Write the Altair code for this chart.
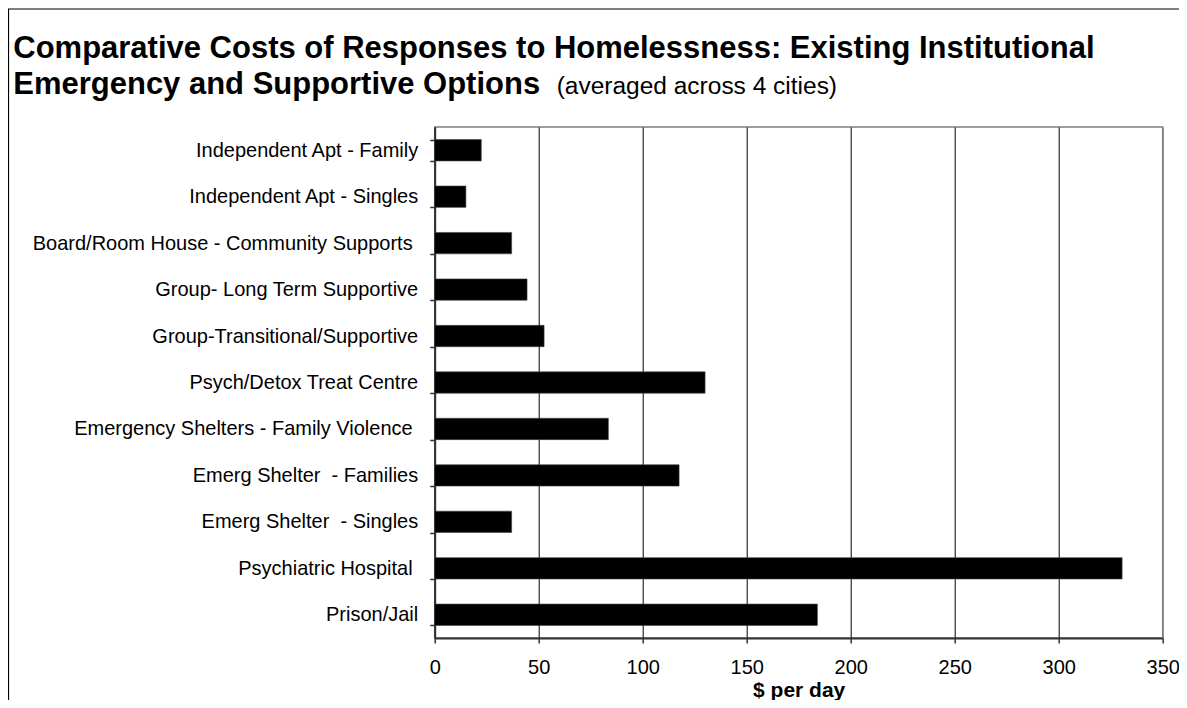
import altair as alt
import pandas as pd

FONT = "Liberation Sans"

categories = [
    "Independent Apt - Family",
    "Independent Apt - Singles",
    "Board/Room House - Community Supports\u00a0\u200b",
    "Group- Long Term Supportive",
    "Group-Transitional/Supportive",
    "Psych/Detox Treat Centre",
    "Emergency Shelters - Family Violence\u00a0\u200b",
    "Emerg Shelter\u00a0 - Families",
    "Emerg Shelter\u00a0 - Singles",
    "Psychiatric Hospital\u00a0\u200b",
    "Prison/Jail",
]
costs = [22.4, 15.0, 37.0, 44.4, 52.6, 130.0, 83.5, 117.5, 37.0, 330.5, 184.0]
x_ticks = [0, 50, 100, 150, 200, 250, 300, 350]

title_line1 = "Comparative Costs of Responses to Homelessness: Existing Institutional"
title_line2 = "Emergency and Supportive Options"
subtitle = "(averaged across 4 cities)"
x_title = "$ per day"

df = pd.DataFrame({"option": categories, "cost": costs})

bars = alt.Chart(df).mark_bar(color="black", stroke="#444444", strokeWidth=0.6).encode(
    x=alt.X(
        "cost:Q",
        scale=alt.Scale(domain=[0, 350], nice=False, zero=True),
        axis=alt.Axis(
            values=x_ticks, format="d", title=x_title,
            titleFont=FONT, titleFontSize=21, titleFontWeight="bold", titleColor="black",
            titleX=364, titleY=59, titleAlign="center", titleBaseline="alphabetic",
            labelFont=FONT, labelFontSize=20, labelColor="black", labelPadding=15,
            labelFlush=False, labelOverlap=False,
            tickSize=5, tickColor="#333333", tickWidth=1.5,
            domainColor="#333333", domainWidth=2,
            grid=True,
            gridColor={"condition": {"test": "datum.value >= 350", "value": "#808080"}, "value": "black"},
            gridWidth=1,
        ),
    ),
    y=alt.Y(
        "option:N",
        sort=categories,
        scale=alt.Scale(paddingInner=0.54, paddingOuter=0.27),
        axis=alt.Axis(
            title=None, labelFont=FONT, labelFontSize=20, labelColor="black",
            labelPadding=12, labelLimit=600,
            tickSize=5, tickColor="#333333", tickWidth=1.5, tickBand="extent",
            domainColor="#333333", domainWidth=2, grid=False,
        ),
    ),
)

t1 = alt.Chart(pd.DataFrame({"t": [title_line1]})).mark_text(
    align="left", baseline="alphabetic", font=FONT, fontSize=31, fontWeight="bold", color="black"
).encode(x=alt.value(-421.4), y=alt.value(-69), text="t:N")

t2 = alt.Chart(pd.DataFrame({"t": [title_line2]})).mark_text(
    align="left", baseline="alphabetic", font=FONT, fontSize=31, fontWeight="bold", color="black"
).encode(x=alt.value(-421.4), y=alt.value(-33), text="t:N")

t3 = alt.Chart(pd.DataFrame({"t": [subtitle]})).mark_text(
    align="left", baseline="alphabetic", font=FONT, fontSize=24.5, color="black"
).encode(x=alt.value(122), y=alt.value(-33), text="t:N")

frame_df = pd.DataFrame({"k": [0]})
frame_left = alt.Chart(frame_df).mark_rule(color="black", strokeWidth=1.2).encode(
    x=alt.value(-426.2), y=alt.value(-118), y2=alt.value(573)
)
frame_top = alt.Chart(frame_df).mark_rule(color="black", strokeWidth=1.2).encode(
    x=alt.value(-426.7), x2=alt.value(745), y=alt.value(-118)
)

chart = alt.layer(bars, t1, t2, t3, frame_left, frame_top).properties(
    width=728,
    height=511,
    autosize=alt.AutoSizeParams(type="none"),
    padding={"left": 426.7, "top": 119, "right": 16, "bottom": 62},
    background="white",
).configure_view(stroke="#808080", strokeWidth=1.5)

chart.save("out.html", embed_options={"renderer": "svg", "actions": False})
